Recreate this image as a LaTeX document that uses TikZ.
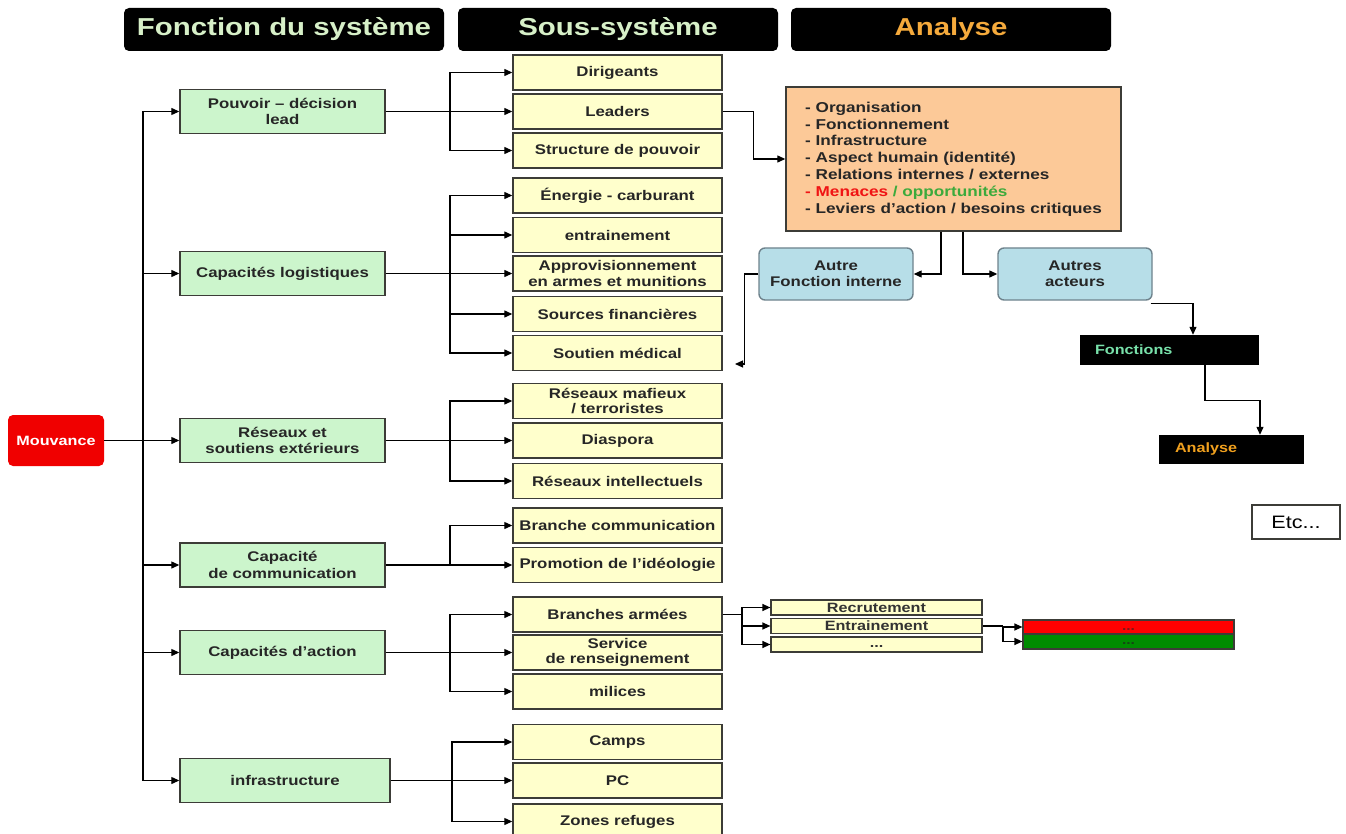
\documentclass[tikz,border=0pt]{standalone}
\usepackage{fontspec}
\setmainfont{Liberation Sans}[FakeStretch=1.2]
\usetikzlibrary{arrows.meta}
\definecolor{gfill}{RGB}{204,245,204}
\definecolor{yfill}{RGB}{255,255,204}
\definecolor{ofill}{RGB}{252,201,152}
\definecolor{bfill}{RGB}{183,222,232}
\definecolor{bord}{RGB}{60,60,55}
\definecolor{bbord}{RGB}{110,130,140}
\definecolor{hgreen}{RGB}{215,240,200}
\definecolor{horange}{RGB}{245,170,60}
\definecolor{fgreen}{RGB}{120,225,170}
\definecolor{aorange}{RGB}{240,160,30}
\definecolor{menred}{RGB}{240,20,20}
\definecolor{oppgreen}{RGB}{60,170,60}
\definecolor{mred}{RGB}{240,0,0}
\definecolor{rbox}{RGB}{255,0,0}
\definecolor{gbox}{RGB}{0,140,0}
\begin{document}
\begin{tikzpicture}[x=1pt,y=-1pt,
  hdr/.style={fill=black, rounded corners=5pt, minimum width=320pt, minimum height=43pt, inner sep=0pt, font=\fontsize{24.5}{28}\selectfont\bfseries},
  fbox/.style={draw=bord, line width=1.4pt, fill=gfill, minimum width=205pt, minimum height=44pt, inner sep=0pt, align=center, font=\fontsize{14}{16.5}\selectfont\bfseries, text=black!85},
  sbox/.style={draw=bord, line width=1.4pt, fill=yfill, minimum width=209pt, minimum height=35pt, inner sep=0pt, align=center, font=\fontsize{14}{15.5}\selectfont\bfseries, text=black!85},
  blbox/.style={draw=bbord, line width=1.4pt, fill=bfill, rounded corners=6pt, minimum width=154pt, minimum height=52pt, inner sep=0pt, align=center, font=\fontsize{14}{16.5}\selectfont\bfseries, text=black!85},
  blk/.style={fill=black, minimum height=30pt, inner ysep=0pt, align=left, font=\fontsize{13.5}{15}\selectfont\bfseries},
  subbox/.style={draw=bord, line width=1.2pt, fill=yfill, minimum width=211pt, minimum height=15pt, inner sep=0pt, font=\fontsize{13.5}{15}\selectfont\bfseries, text=black!80},
  colbox/.style={draw=bord, line width=1.2pt, minimum width=211pt, inner sep=0pt, font=\fontsize{13}{15}\selectfont\bfseries},
  arr/.style={line width=1.2pt, -{Triangle[length=8pt,width=7pt]}},
  ln/.style={line width=1.2pt}]
\useasboundingbox (0,0) rectangle (1346,834);
\clip (0,0) rectangle (1346,834);

% headers
\node[hdr, text=hgreen] (h1) at (284,29.5) {Fonction du système};
\node[hdr, text=hgreen] (h2) at (618,29.5) {Sous-système};
\node[hdr, text=horange] (h3) at (951,29.5) {Analyse};

% root
\node[fill=mred, rounded corners=5pt, minimum width=96pt, minimum height=51pt, inner sep=0pt, text=white, font=\fontsize{13.5}{15}\selectfont\bfseries] (mouv) at (56,440.5) {Mouvance};

% functions
\node[fbox] (pouv) at (282.5,111.5) {Pouvoir – décision\\lead};
\node[fbox] (logi) at (282.5,273.5) {Capacités logistiques};
\node[fbox] (res) at (282.5,440.5) {Réseaux et\\soutiens extérieurs};
\node[fbox] (comm) at (282.5,565) {Capacité\\de communication};
\node[fbox] (act) at (282.5,652.5) {Capacités d'action};
\node[fbox, minimum width=210pt] (infra) at (285,780.5) {infrastructure};

% sub-systems
\node[sbox] (dir) at (617.5,72.5) {Dirigeants};
\node[sbox] (lead) at (617.5,111.5) {Leaders};
\node[sbox] (struc) at (617.5,150.5) {Structure de pouvoir};
\node[sbox] (ener) at (617.5,195.5) {Énergie - carburant};
\node[sbox] (entr) at (617.5,235) {entrainement};
\node[sbox] (appro) at (617.5,273.5) {Approvisionnement\\en armes et munitions};
\node[sbox] (fin) at (617.5,314) {Sources financières};
\node[sbox] (sout) at (617.5,353) {Soutien médical};
\node[sbox] (maf) at (617.5,401) {Réseaux mafieux\\/ terroristes};
\node[sbox] (dias) at (617.5,440.5) {Diaspora};
\node[sbox] (intel) at (617.5,481) {Réseaux intellectuels};
\node[sbox] (bcom) at (617.5,525.5) {Branche communication};
\node[sbox] (promo) at (617.5,565) {Promotion de l'idéologie};
\node[sbox] (arm) at (617.5,614.5) {Branches armées};
\node[sbox] (serv) at (617.5,652.5) {Service\\de renseignement};
\node[sbox] (mil) at (617.5,691.5) {milices};
\node[sbox] (camps) at (617.5,742) {Camps};
\node[sbox] (pc) at (617.5,780.5) {PC};
\node[sbox] (zones) at (617.5,821.5) {Zones refuges};

% analysis
\node[draw=bord, line width=1.4pt, fill=ofill, minimum width=335pt, minimum height=144pt, inner sep=0pt, align=left, font=\fontsize{14.3}{16.8}\selectfont\bfseries, text=black!85] (ana) at (953.5,159) {- Organisation\\- Fonctionnement\\- Infrastructure\\- Aspect humain (identité)\\- Relations internes / externes\\{\color{menred}- Menaces} {\color{oppgreen}/ opportunités}\\- Leviers d'action / besoins critiques};
\node[blbox] (autre) at (836,274) {Autre\\Fonction interne};
\node[blbox] (acteurs) at (1075,274) {Autres\\acteurs};
\node[blk, text=fgreen, inner xsep=15pt, text width=149pt] (fonc) at (1169.5,350) {Fonctions};
\node[blk, text=aorange, inner xsep=16pt, text width=113pt, minimum height=29pt] (anas) at (1231.5,449.5) {Analyse};
\node[draw=bord, line width=1.2pt, fill=white, minimum width=88pt, minimum height=34pt, inner sep=0pt, font=\fontsize{18}{20}\selectfont] (etc) at (1296,522) {Etc...};

% armed branch detail
\node[subbox] (recr) at (876.5,607.5) {Recrutement};
\node[subbox] (entr2) at (876.5,626) {Entrainement};
\node[subbox] (dots) at (876.5,644.5) {\vphantom{Ag}...};
\node[colbox, fill=rbox, minimum height=14pt, text={rgb,255:red,130;green,20;blue,20}] (redb) at (1128.5,627) {\vphantom{Ag}...};
\node[colbox, fill=gbox, minimum height=15pt, text={rgb,255:red,20;green,70;blue,20}] (grnb) at (1128.5,641.5) {\vphantom{Ag}...};

% trunk
\coordinate (tr) at (143,440.5);
\draw[arr] (mouv.east) -- (res.west);
\draw[arr] (tr) |- (pouv.west);
\draw[arr] (tr) |- (logi.west);
\draw[arr] (tr) |- (comm.west);
\draw[arr] (tr) |- (act.west);
\draw[arr] (tr) |- (infra.west);

% group 1
\coordinate (b1) at (450,111.5);
\draw[arr] (pouv.east) -- (lead.west);
\draw[arr] (b1) |- (dir.west);
\draw[arr] (b1) |- (struc.west);
% group 2
\coordinate (b2) at (450,273.5);
\draw[arr] (logi.east) -- (appro.west);
\draw[arr] (b2) |- (ener.west);
\draw[arr] (b2) |- (entr.west);
\draw[arr] (b2) |- (fin.west);
\draw[arr] (b2) |- (sout.west);
% group 3
\coordinate (b3) at (450,440.5);
\draw[arr] (res.east) -- (dias.west);
\draw[arr] (b3) |- (maf.west);
\draw[arr] (b3) |- (intel.west);
% group 4
\coordinate (b4) at (450,565);
\draw[arr] (comm.east) -- (promo.west);
\draw[arr] (b4) |- (bcom.west);
% group 5
\coordinate (b5) at (450,652.5);
\draw[arr] (act.east) -- (serv.west);
\draw[arr] (b5) |- (arm.west);
\draw[arr] (b5) |- (mil.west);
% group 6
\coordinate (b6) at (452,780.5);
\draw[arr] (infra.east) -- (pc.west);
\draw[arr] (b6) |- (camps.west);
\draw[arr] (b6) |- (zones.west);

% analysis connectors
\draw[arr] (lead.east) -- ++(31,0) |- (ana.west);
\draw[arr] ([xshift=-12.5pt]ana.south) |- (autre.east);
\draw[arr] ([xshift=9.5pt]ana.south) |- (acteurs.west);
\coordinate (ret) at (735,364);
\draw[arr] (autre.west) -- ++(-14,0) |- (ret);
\draw[arr] ([xshift=-2pt,yshift=-3pt]acteurs.south east) -| ([xshift=23.5pt]fonc.north);
\draw[arr] ([xshift=35.5pt]fonc.south) -- ++(0,35) -| ([xshift=28.5pt]anas.north);

% detail connectors
\coordinate (b7) at (742,614.5);
\draw[ln] (arm.east) -- (b7);
\draw[arr] (b7) |- (recr.west);
\draw[arr] (b7) |- (entr2.west);
\draw[arr] (b7) |- (dots.west);
\coordinate (b8) at (1003,626);
\draw[ln] (entr2.east) -- (b8);
\draw[arr] (b8) |- (redb.west);
\draw[arr] (b8) |- (grnb.west);
\end{tikzpicture}
\end{document}
